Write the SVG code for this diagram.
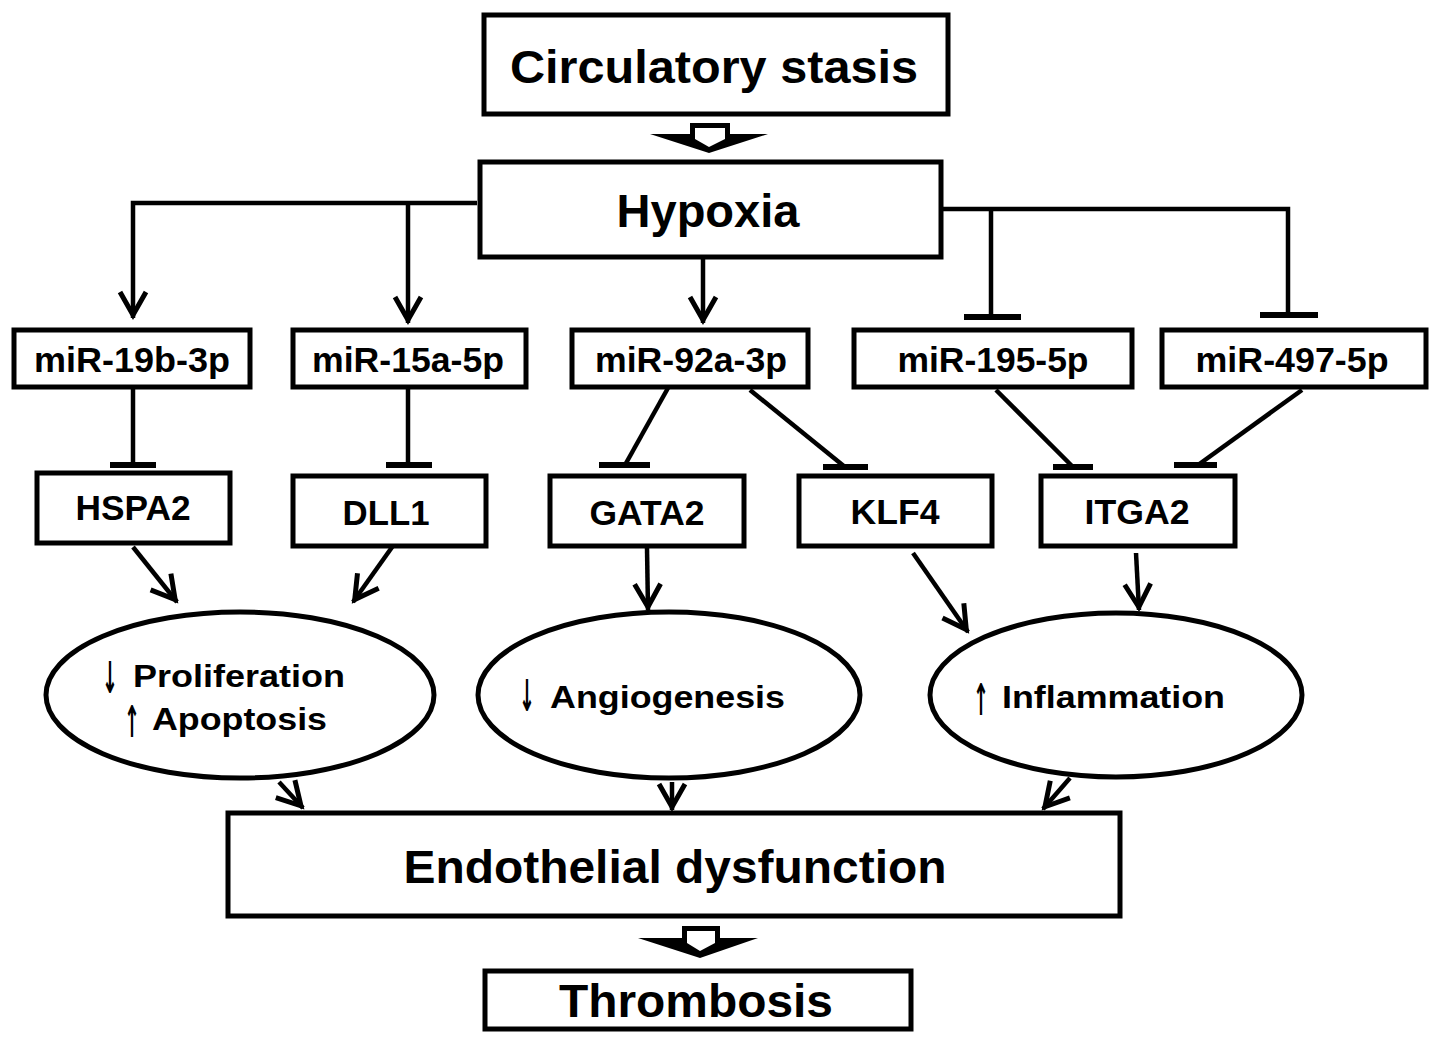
<svg xmlns="http://www.w3.org/2000/svg" width="1441" height="1044" viewBox="0 0 1441 1044">
<defs>
<style>
.box{fill:#fff;stroke:#000;stroke-width:5}
.ell{fill:#fff;stroke:#000;stroke-width:5}
.big{font-family:"Liberation Sans",Arial,sans-serif;font-weight:bold;font-size:46px;fill:#000;text-anchor:middle}
.mid{font-family:"Liberation Sans",Arial,sans-serif;font-weight:bold;font-size:35px;fill:#000;text-anchor:middle}
.sm{font-family:"Liberation Sans",Arial,sans-serif;font-weight:bold;font-size:32px;fill:#000}
.sym{font-family:"DejaVu Sans",sans-serif;font-weight:bold;font-size:38px;fill:#000;text-anchor:middle}
.ln{fill:none;stroke:#000;stroke-width:4.5}
.act{fill:none;stroke:#000;stroke-width:4.5;marker-end:url(#arr)}
.bar{stroke:#000;stroke-width:6}
.blkout{fill:#000;stroke:none}
.blkin{fill:#fff;stroke:none}
</style>
<marker id="arr" viewBox="0 0 32 30" refX="29" refY="15" markerWidth="32" markerHeight="30" markerUnits="userSpaceOnUse" orient="auto" style="overflow:visible">
<path d="M3,2 L26,15 L3,28" fill="none" stroke="#000" stroke-width="5"/>
</marker>
</defs>

<g id="connectors">
<polygon class="blkout" points="690,123 730,123 730,134 768,134 709,153 650,134 690,134"/>
<polygon class="blkin" points="695,128 725,128 725,139 709,147 695,139"/>
<polygon class="blkout" points="682,926 720,926 720,938 758,938 700,958 638,938 682,938"/>
<polygon class="blkin" points="687,931 715,931 715,943 700,951 687,943"/>
<path class="act" d="M477,203 H133 V318"/>
<path class="act" d="M408,203 V323"/>
<path class="act" d="M703,258 V323"/>
<path class="ln" d="M942,209 H1288 V315"/>
<path class="ln" d="M991,209 V317"/>
<line class="bar" x1="964" y1="317" x2="1021" y2="317"/>
<line class="bar" x1="1260" y1="315" x2="1318" y2="315"/>
<path class="ln" d="M133,388 V465"/>
<line class="bar" x1="110" y1="465" x2="156" y2="465"/>
<path class="ln" d="M408,388 V465"/>
<line class="bar" x1="386" y1="465" x2="432" y2="465"/>
<path class="ln" d="M668,388 L625,465"/>
<line class="bar" x1="599" y1="465" x2="650" y2="465"/>
<path class="ln" d="M750,390 L845,467"/>
<line class="bar" x1="823" y1="467" x2="868" y2="467"/>
<path class="ln" d="M996,390 L1073,467"/>
<line class="bar" x1="1053" y1="467" x2="1093" y2="467"/>
<path class="ln" d="M1302,390 L1198,465"/>
<line class="bar" x1="1174" y1="465" x2="1217" y2="465"/>
<path class="act" d="M133,547 L177,602"/>
<path class="act" d="M395,543 L353,602"/>
<path class="act" d="M647,548 L648,610"/>
<path class="act" d="M913,553 L968,632"/>
<path class="act" d="M1136,553 L1139,610"/>
<path class="act" d="M279,782 L303,808"/>
<path class="act" d="M672,782 L672,810"/>
<path class="act" d="M1070,778 L1043,809"/>
</g>

<g id="circulatory-stasis">
<rect class="box" x="484" y="15" width="464" height="99"/>
<text class="big" x="714" y="83" textLength="408" lengthAdjust="spacingAndGlyphs">Circulatory stasis</text>
</g>
<g id="hypoxia">
<rect class="box" x="480" y="162" width="461" height="95"/>
<text class="big" x="708" y="227" textLength="183" lengthAdjust="spacingAndGlyphs">Hypoxia</text>
</g>

<g id="mir-19b-3p">
<rect class="box" x="14" y="330" width="236" height="57"/>
<text class="mid" x="132" y="372" textLength="196" lengthAdjust="spacingAndGlyphs">miR-19b-3p</text>
</g>
<g id="mir-15a-5p">
<rect class="box" x="293" y="330" width="233" height="57"/>
<text class="mid" x="408" y="372" textLength="192" lengthAdjust="spacingAndGlyphs">miR-15a-5p</text>
</g>
<g id="mir-92a-3p">
<rect class="box" x="572" y="330" width="236" height="57"/>
<text class="mid" x="691" y="372" textLength="192" lengthAdjust="spacingAndGlyphs">miR-92a-3p</text>
</g>
<g id="mir-195-5p">
<rect class="box" x="854" y="330" width="278" height="57"/>
<text class="mid" x="993" y="372" textLength="191" lengthAdjust="spacingAndGlyphs">miR-195-5p</text>
</g>
<g id="mir-497-5p">
<rect class="box" x="1162" y="330" width="264" height="57"/>
<text class="mid" x="1292" y="372" textLength="193" lengthAdjust="spacingAndGlyphs">miR-497-5p</text>
</g>

<g id="hspa2">
<rect class="box" x="37" y="473" width="193" height="70"/>
<text class="mid" x="133" y="520" textLength="115" lengthAdjust="spacingAndGlyphs">HSPA2</text>
</g>
<g id="dll1">
<rect class="box" x="293" y="476" width="193" height="70"/>
<text class="mid" x="386" y="525" textLength="87" lengthAdjust="spacingAndGlyphs">DLL1</text>
</g>
<g id="gata2">
<rect class="box" x="550" y="476" width="194" height="70"/>
<text class="mid" x="647" y="525" textLength="115" lengthAdjust="spacingAndGlyphs">GATA2</text>
</g>
<g id="klf4">
<rect class="box" x="799" y="476" width="193" height="70"/>
<text class="mid" x="895" y="524" textLength="89" lengthAdjust="spacingAndGlyphs">KLF4</text>
</g>
<g id="itga2">
<rect class="box" x="1041" y="476" width="194" height="70"/>
<text class="mid" x="1137" y="524" textLength="105" lengthAdjust="spacingAndGlyphs">ITGA2</text>
</g>

<g id="proliferation-apoptosis">
<ellipse class="ell" cx="240" cy="695" rx="194" ry="83"/>
<text class="sym" transform="translate(110,693) scale(0.5,1.15)">↓</text>
<text class="sm" x="133" y="687" textLength="212" lengthAdjust="spacingAndGlyphs">Proliferation</text>
<text class="sym" transform="translate(132,737) scale(0.5,1.15)">↑</text>
<text class="sm" x="152" y="730" textLength="175" lengthAdjust="spacingAndGlyphs">Apoptosis</text>
</g>
<g id="angiogenesis">
<ellipse class="ell" cx="669" cy="695" rx="191" ry="83"/>
<text class="sym" transform="translate(527,711) scale(0.5,1.15)">↓</text>
<text class="sm" x="550" y="708" textLength="235" lengthAdjust="spacingAndGlyphs">Angiogenesis</text>
</g>
<g id="inflammation">
<ellipse class="ell" cx="1116" cy="695" rx="186" ry="82"/>
<text class="sym" transform="translate(981,715) scale(0.5,1.15)">↑</text>
<text class="sm" x="1002" y="708" textLength="223" lengthAdjust="spacingAndGlyphs">Inflammation</text>
</g>

<g id="endothelial-dysfunction">
<rect class="box" x="228" y="813" width="892" height="103"/>
<text class="big" x="675" y="883" textLength="543" lengthAdjust="spacingAndGlyphs">Endothelial dysfunction</text>
</g>
<g id="thrombosis">
<rect class="box" x="485" y="971" width="426" height="58"/>
<text class="big" x="696" y="1017" textLength="274" lengthAdjust="spacingAndGlyphs">Thrombosis</text>
</g>
</svg>
